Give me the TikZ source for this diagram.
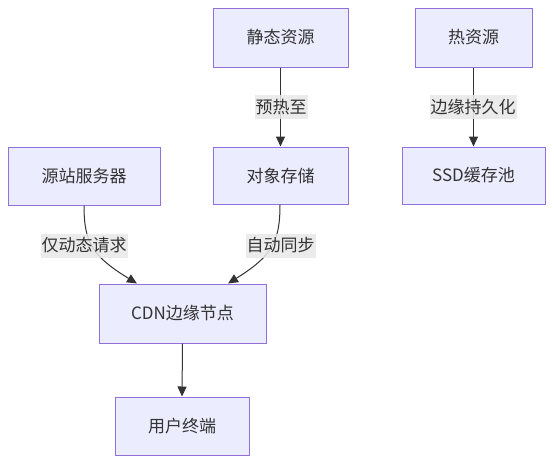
\documentclass[tikz,border=0pt]{standalone}
\usepackage{fontspec}
\setmainfont{Noto Sans CJK SC}
\usetikzlibrary{arrows.meta}
\definecolor{boxfill}{HTML}{ECECFF}
\definecolor{boxline}{HTML}{9370DB}
\definecolor{ink}{HTML}{333333}
\definecolor{lblbg}{HTML}{E8E8E8}
\tikzset{
  box/.style={draw=boxline, fill=boxfill, line width=1pt, text=ink, font=\fontsize{17}{20}\selectfont, inner sep=0pt, minimum height=58pt},
  lbl/.style={fill=lblbg, fill opacity=0.85, text opacity=1, text=ink, font=\fontsize{17}{20}\selectfont, inner xsep=1pt, inner ysep=0pt, minimum height=24pt},
  arr/.style={draw=ink, line width=1pt, -{Triangle[length=10pt,width=9pt]}}
}
\begin{document}
\begin{tikzpicture}[x=1pt,y=-1pt]
\useasboundingbox[fill=white] (0,0) rectangle (554,464);
\node[box, minimum width=135pt, minimum height=59pt] (jt) at (280.5,37.5) {静态资源};
\node[box, minimum width=117pt, minimum height=59pt] (rz) at (473.5,37.5) {热资源};
\node[box, minimum width=152pt] (yz) at (84,176) {源站服务器};
\node[box, minimum width=135pt, minimum height=57pt] (dx) at (280.5,175.5) {对象存储};
\node[box, minimum width=143pt, minimum height=57pt] (ssd) at (473.5,175.5) {SSD缓存池};
\node[box, minimum width=167pt, minimum height=59pt] (cdn) at (182.5,313.5) {CDN边缘节点};
\node[box, minimum width=134pt] (yh) at (182,426) {用户终端};
\coordinate (cdnl) at ([xshift=-45.5pt]cdn.north);
\coordinate (cdnr) at ([xshift=45.5pt]cdn.north);
\draw[arr] (jt) -- (dx);
\draw[arr] (rz.south) -- (ssd.north);
\draw[arr] (yz.south) .. controls (84,242) and (92,256) .. (cdnl);
\draw[arr] ([xshift=-0.5pt]dx.south) .. controls (280,242) and (272,256) .. (cdnr);
\draw[arr] (cdn.south) -- (yh.north);
\node[lbl] (l1) at (281,107) {预热至};
\node[lbl] (l2) at (473,107) {边缘持久化};
\node[lbl] (l3) at (84,245.5) {仅动态请求};
\node[lbl] (l4) at (280.5,245.5) {自动同步};
\end{tikzpicture}
\end{document}
